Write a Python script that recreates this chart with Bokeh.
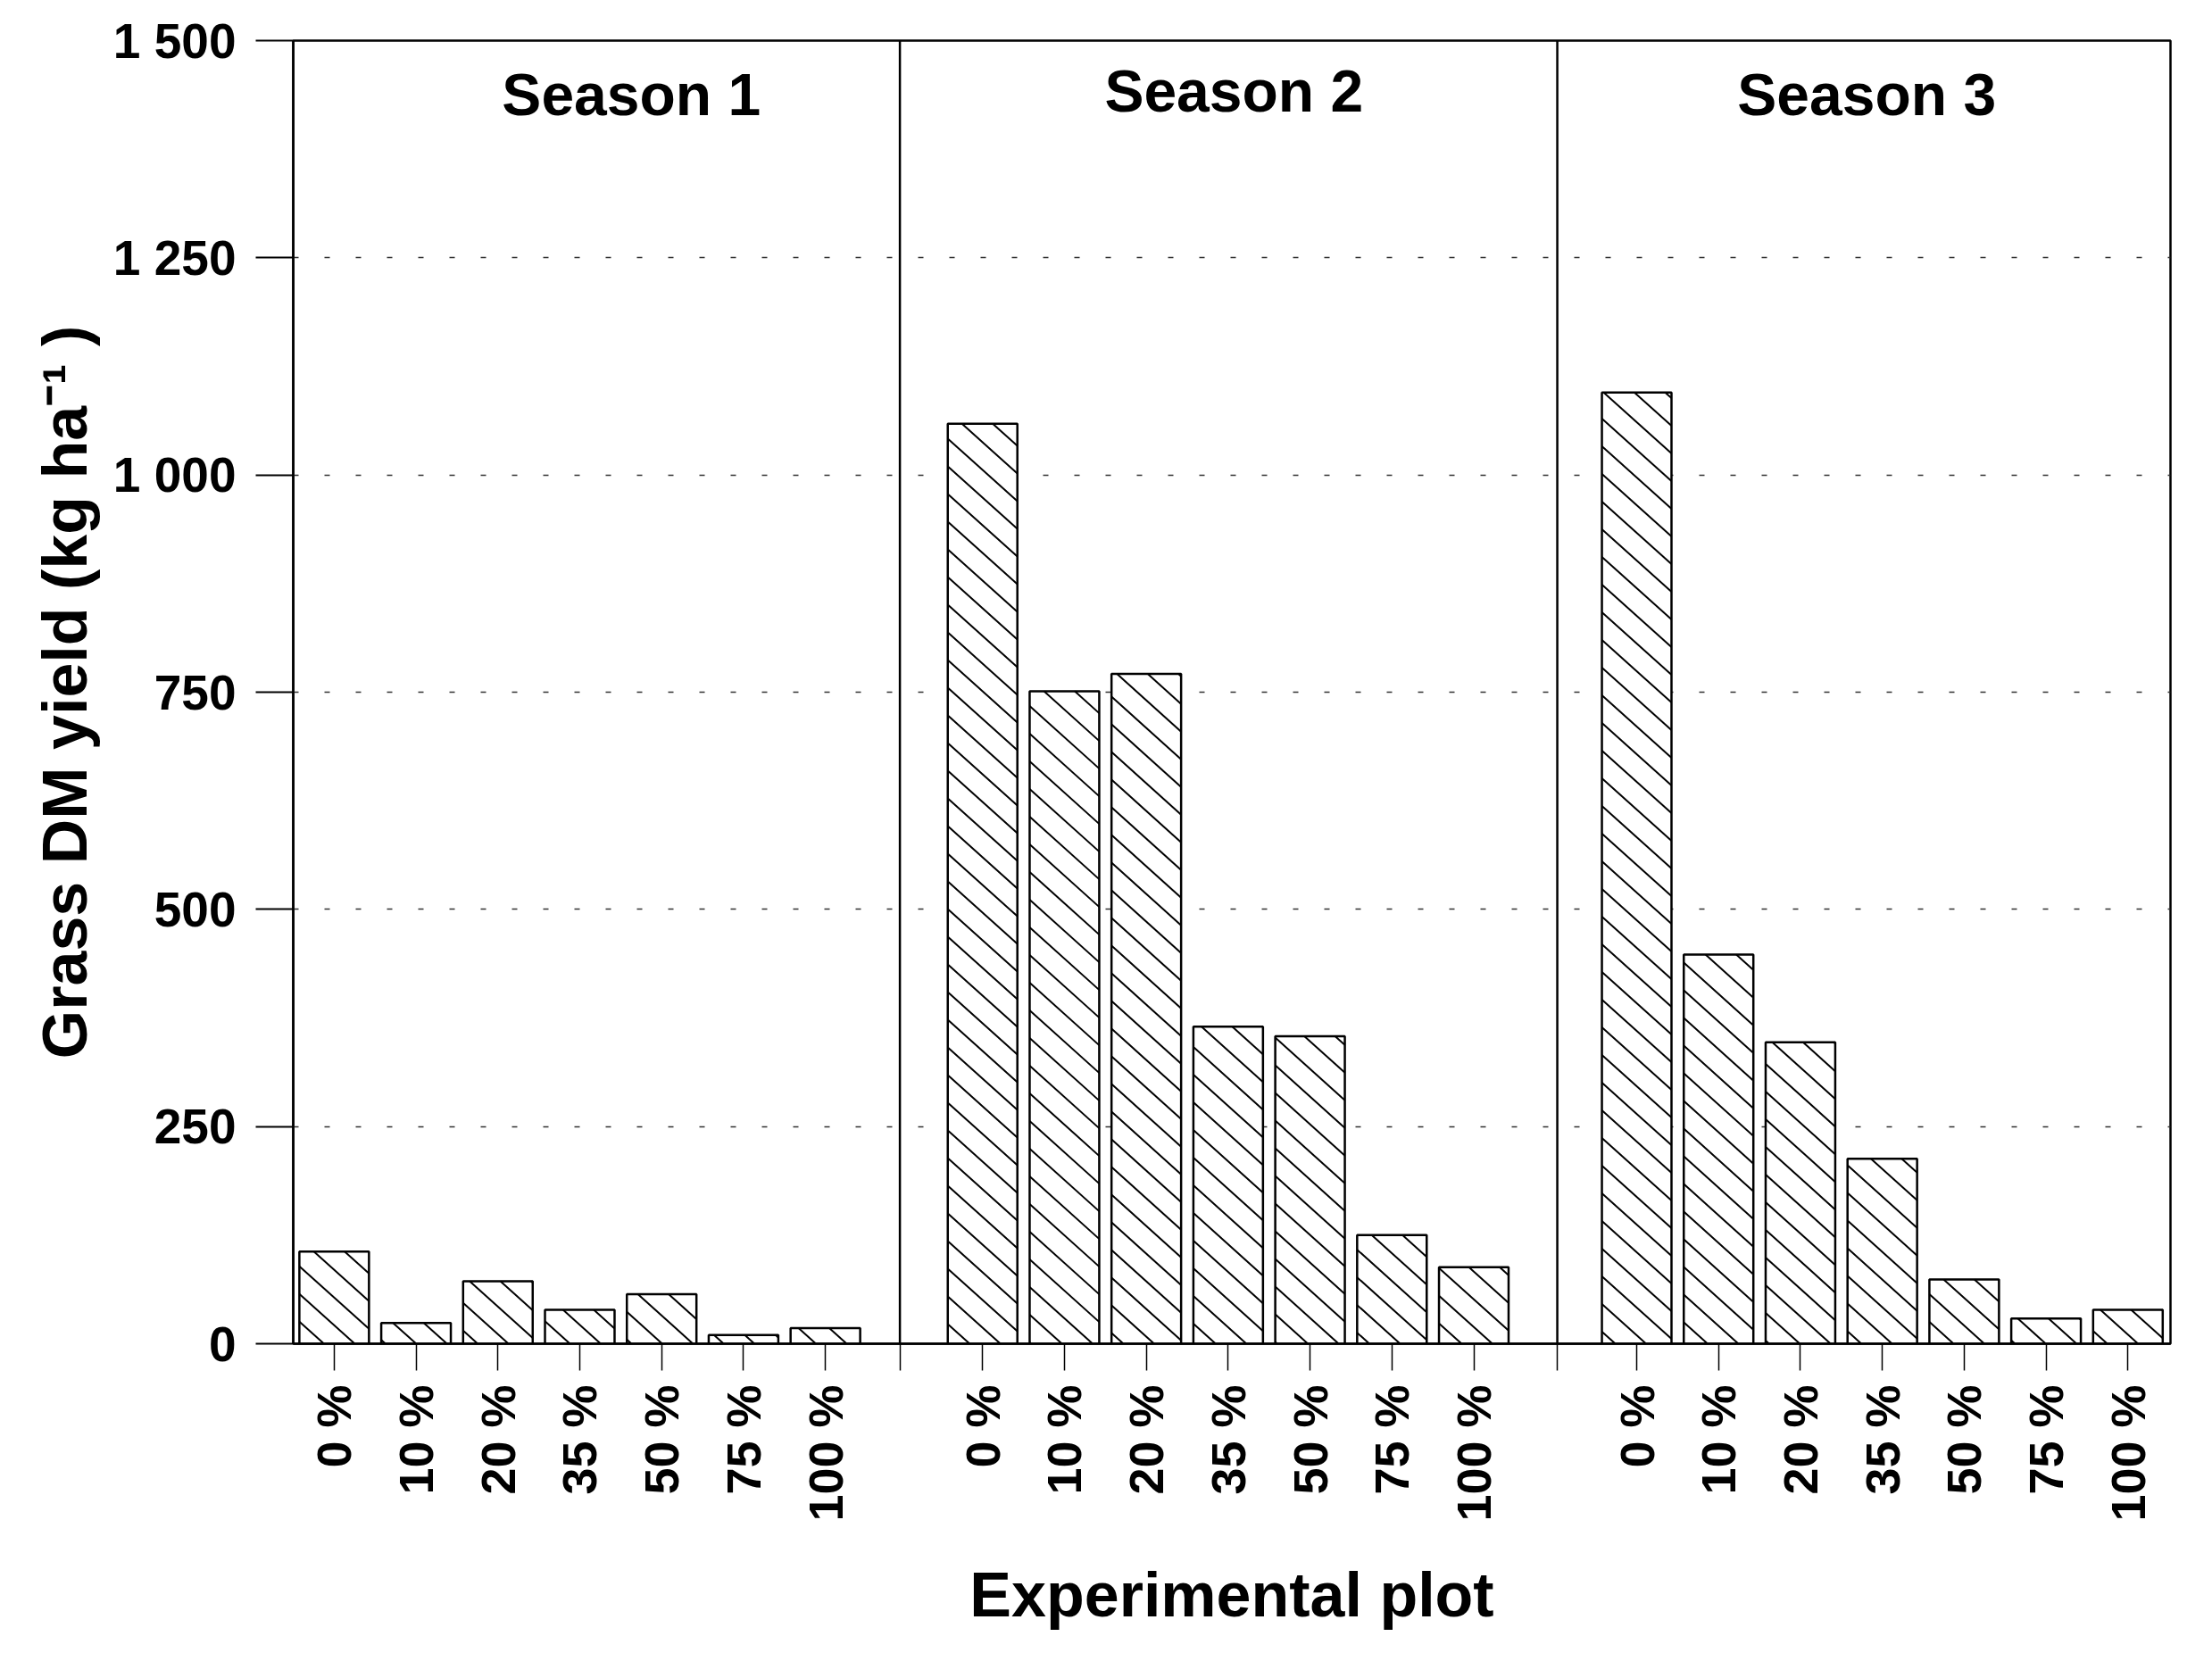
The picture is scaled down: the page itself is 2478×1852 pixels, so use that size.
import math
from bokeh.plotting import figure
from bokeh.models import (ColumnDataSource, Range1d, FixedTicker, Span, Label)
from bokeh.embed import file_html
from bokeh.resources import INLINE

# ---- data ----
treatments = ["0 %", "10 %", "20 %", "35 %", "50 %", "75 %", "100 %"]
seasons = ["Season 1", "Season 2", "Season 3"]
season1 = [106, 24, 72, 39, 57, 10, 18]
season2 = [1059, 751, 771, 365, 354, 125, 88]
season3 = [1095, 448, 347, 213, 74, 29, 39]
y_ticks = [0, 250, 500, 750, 1000, 1250, 1500]
y_tick_labels = ["0", "250", "500", "750", "1 000", "1 250", "1 500"]

# ---- layout (positions in bar-pitch units) ----
group_start = [0.5, 8.42, 16.41]
boundaries = [7.41, 15.44]
x_max = 22.93
y_max = 1500
bar_w = 0.85
label_x = [4.13, 11.49, 19.22]
label_y = [1438, 1442, 1438]
FRAME_W, FRAME_H = 2103, 1460

xs, tops, labs = [], [], []
for g, vals in enumerate([season1, season2, season3]):
    for k, v in enumerate(vals):
        xs.append(group_start[g] + k)
        tops.append(v)
        labs.append(treatments[k])
src = ColumnDataSource(dict(x=xs, top=tops))

# ---- hatch lines ("\" at ~42 deg), computed from each bar's extent ----
ux = FRAME_W / x_max          # px per x unit
uy = FRAME_H / y_max          # px per y unit
slope = 0.9                   # px drop per px right
spacing = 31.0                # vertical px between hatch lines
hx0, hy0, hx1, hy1 = [], [], [], []
for c, t in zip(xs, tops):
    X0 = (c - bar_w / 2) * ux
    X1 = (c + bar_w / 2) * ux
    T = t * uy
    n0 = math.ceil(slope * X0 / spacing)
    n1 = math.floor((T + slope * X1) / spacing)
    for n in range(n0, n1 + 1):
        C = n * spacing
        a = max(X0, (C - T) / slope)
        b = min(X1, C / slope)
        if b - a > 0.5:
            hx0.append(a / ux)
            hy0.append((C - slope * a) / uy)
            hx1.append(b / ux)
            hy1.append((C - slope * b) / uy)
hatch_src = ColumnDataSource(dict(x0=hx0, y0=hy0, x1=hx1, y1=hy1))

FONT = "Liberation Sans"

p = figure(output_backend="svg", toolbar_location=None,
           frame_width=FRAME_W, frame_height=FRAME_H,
           x_range=Range1d(0, x_max), y_range=Range1d(0, y_max),
           min_border_left=328, min_border_right=30,
           min_border_top=45, min_border_bottom=330,
           background_fill_color="white", border_fill_color="white")

p.outline_line_color = "black"
p.outline_line_width = 2.5

# grid
p.xgrid.visible = False
p.ygrid.ticker = FixedTicker(ticks=[250, 500, 750, 1000, 1250])
p.ygrid.grid_line_color = "#333333"
p.ygrid.grid_line_width = 1.5
p.ygrid.grid_line_dash = "6 29"

# bars: white fill, hatch, outline on top
p.vbar(x="x", top="top", bottom=0, width=bar_w, source=src,
       fill_color="white", line_color=None)
p.segment(x0="x0", y0="y0", x1="x1", y1="y1", source=hatch_src,
          line_color="black", line_width=2)
p.vbar(x="x", top="top", bottom=0, width=bar_w, source=src,
       fill_color=None, line_color="black", line_width=2.5)

# season separators
for b in boundaries:
    p.add_layout(Span(location=b, dimension="height", line_color="black",
                      line_width=2.5))

# season labels
for i, s in enumerate(seasons):
    p.add_layout(Label(x=label_x[i], y=label_y[i], text=s,
                       text_align="center", text_baseline="alphabetic",
                       text_font=FONT, text_font_size="66px",
                       text_font_style="bold", text_color="black"))

# x axis
xa = p.xaxis[0]
xa.ticker = FixedTicker(ticks=xs, minor_ticks=boundaries)
xa.major_label_overrides = {x: l for x, l in zip(xs, labs)}
xa.major_label_orientation = math.pi / 2
xa.major_label_text_font = FONT
xa.major_label_text_font_size = "54px"
xa.major_label_text_font_style = "bold"
xa.major_label_text_color = "black"
xa.major_label_standoff = 16
xa.major_tick_out = 30
xa.major_tick_in = 0
xa.major_tick_line_width = 1.5
xa.major_tick_line_color = "black"
xa.minor_tick_out = 30
xa.minor_tick_in = 0
xa.minor_tick_line_width = 1.5
xa.minor_tick_line_color = "black"
xa.axis_line_width = 2.5
xa.axis_line_color = "black"
xa.axis_label = "Experimental plot"
xa.axis_label_text_font = FONT
xa.axis_label_text_font_size = "70px"
xa.axis_label_text_font_style = "bold"
xa.axis_label_text_color = "black"
xa.axis_label_standoff = 40

# y axis
ya = p.yaxis[0]
ya.ticker = FixedTicker(ticks=y_ticks)
ya.major_label_overrides = {t: l for t, l in zip(y_ticks, y_tick_labels)}
ya.major_label_text_font = FONT
ya.major_label_text_font_size = "55px"
ya.major_label_text_font_style = "bold"
ya.major_label_text_color = "black"
ya.major_label_standoff = 22
ya.major_tick_out = 42
ya.major_tick_in = 0
ya.major_tick_line_width = 2
ya.major_tick_line_color = "black"
ya.minor_tick_out = 0
ya.minor_tick_in = 0
ya.axis_line_width = 2.5
ya.axis_line_color = "black"
ya.axis_label = "Grass DM yield (kg ha\u207b\u00b9 )"
ya.axis_label_text_font = FONT
ya.axis_label_text_font_size = "70px"
ya.axis_label_text_font_style = "bold"
ya.axis_label_text_color = "black"
ya.axis_label_standoff = 12

open("out.html", "w").write(file_html(p, INLINE))
